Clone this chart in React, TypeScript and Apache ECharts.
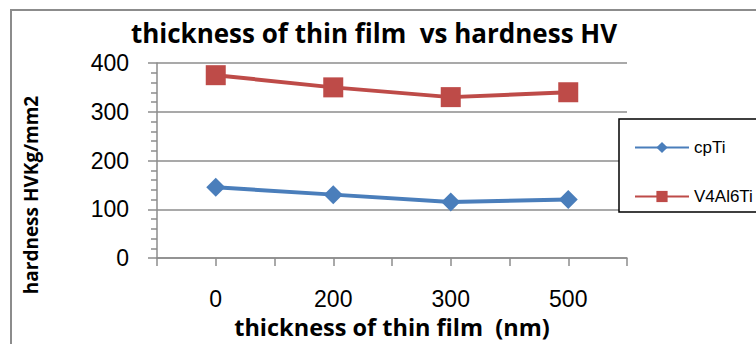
import React, { useEffect, useRef } from "react";
import * as echarts from "echarts";

const categories = ["0", "200", "300", "500"];
const cpTi = [145, 130, 115, 120];
const v4al6ti = [375, 350, 330, 340];
const halfTickCats = ["", "", "", "", "", "", "", ""];
const yTicks = { min: 0, max: 400, interval: 100 };

export default function App() {
  const ref = useRef<HTMLDivElement>(null);
  useEffect(() => {
    if (!ref.current) return;
    const chart = echarts.init(ref.current, null, { renderer: "svg" });
    const gray = "#8c8c8c";
    chart.setOption({
      animation: false,
      backgroundColor: "#ffffff",
      title: {
        text: "thickness of thin film  vs hardness HV",
        left: 369,
        textAlign: "center",
        top: 15,
        textStyle: { fontFamily: "Open Sans", fontWeight: "bold", fontSize: 26, color: "#000" },
      },
      grid: { left: 157, top: 63, right: 129, bottom: 86, containLabel: false },
      legend: {
        orient: "vertical",
        left: 629,
        top: 134,
        itemWidth: 54,
        itemHeight: 14,
        itemGap: 32,
        z: 10,
        textStyle: { fontFamily: "Liberation Sans", fontSize: 17, color: "#000" },
        data: ["cpTi", "V4Al6Ti"],
      },
      xAxis: [
        {
          type: "category",
          data: categories,
          boundaryGap: true,
          position: "bottom",
          axisLine: { show: true, lineStyle: { color: gray, width: 1.5 } },
          axisTick: { show: false },
          axisLabel: { fontFamily: "Liberation Sans", fontSize: 23, color: "#000", margin: 29 },
          name: "thickness of thin film  (nm)",
          nameLocation: "middle",
          nameGap: 57,
          nameTextStyle: { fontFamily: "Open Sans", fontWeight: "bold", fontSize: 23.5, color: "#000" },
        },
        {
          type: "category",
          data: halfTickCats,
          boundaryGap: true,
          position: "bottom",
          axisLine: { show: false },
          axisTick: { show: true, interval: 0, length: 8, lineStyle: { color: gray, width: 1.5 } },
          axisLabel: { show: false },
        },
      ],
      yAxis: {
        type: "value",
        min: yTicks.min,
        max: yTicks.max,
        interval: yTicks.interval,
        axisLine: { show: true, lineStyle: { color: gray, width: 1.5 } },
        axisTick: { show: true, length: 9, lineStyle: { color: gray, width: 1.5 } },
        minorTick: { show: true, splitNumber: 5, length: 6, lineStyle: { color: gray, width: 1.5 } },
        splitLine: { show: true, lineStyle: { color: gray, width: 1.5 } },
        axisLabel: { fontFamily: "Liberation Sans", fontSize: 23, color: "#000", margin: 28 },
      },
      graphic: [
        {
          type: "rect",
          shape: { x: 11, y: 10, width: 800, height: 400 },
          style: { fill: "none", stroke: gray, lineWidth: 2 },
          z: 1,
          silent: true,
        },
        {
          type: "rect",
          shape: { x: 619, y: 119, width: 200, height: 93 },
          style: { fill: "#ffffff", stroke: "#000", lineWidth: 1.5 },
          z: 5,
          silent: true,
        },
        {
          type: "text",
          x: 31,
          y: 195,
          rotation: Math.PI / 2,
          style: {
            text: "hardness HVKg/mm2",
            fontFamily: "Open Sans",
            fontWeight: "bold",
            fontSize: 19,
            fill: "#000",
            textAlign: "center",
            textVerticalAlign: "middle",
          },
          z: 5,
        },
      ],
      series: [
        {
          name: "cpTi",
          type: "line",
          data: cpTi,
          symbol: "diamond",
          symbolSize: 19,
          lineStyle: { color: "#4a7ebb", width: 4 },
          itemStyle: { color: "#4a7ebb" },
        },
        {
          name: "V4Al6Ti",
          type: "line",
          data: v4al6ti,
          symbol: "rect",
          symbolSize: 20,
          lineStyle: { color: "#be4b48", width: 4 },
          itemStyle: { color: "#be4b48" },
        },
      ],
    });
    return () => chart.dispose();
  }, []);
  return <div ref={ref} style={{ position: "fixed", left: 0, top: 0, width: 756, height: 344 }} />;
}
